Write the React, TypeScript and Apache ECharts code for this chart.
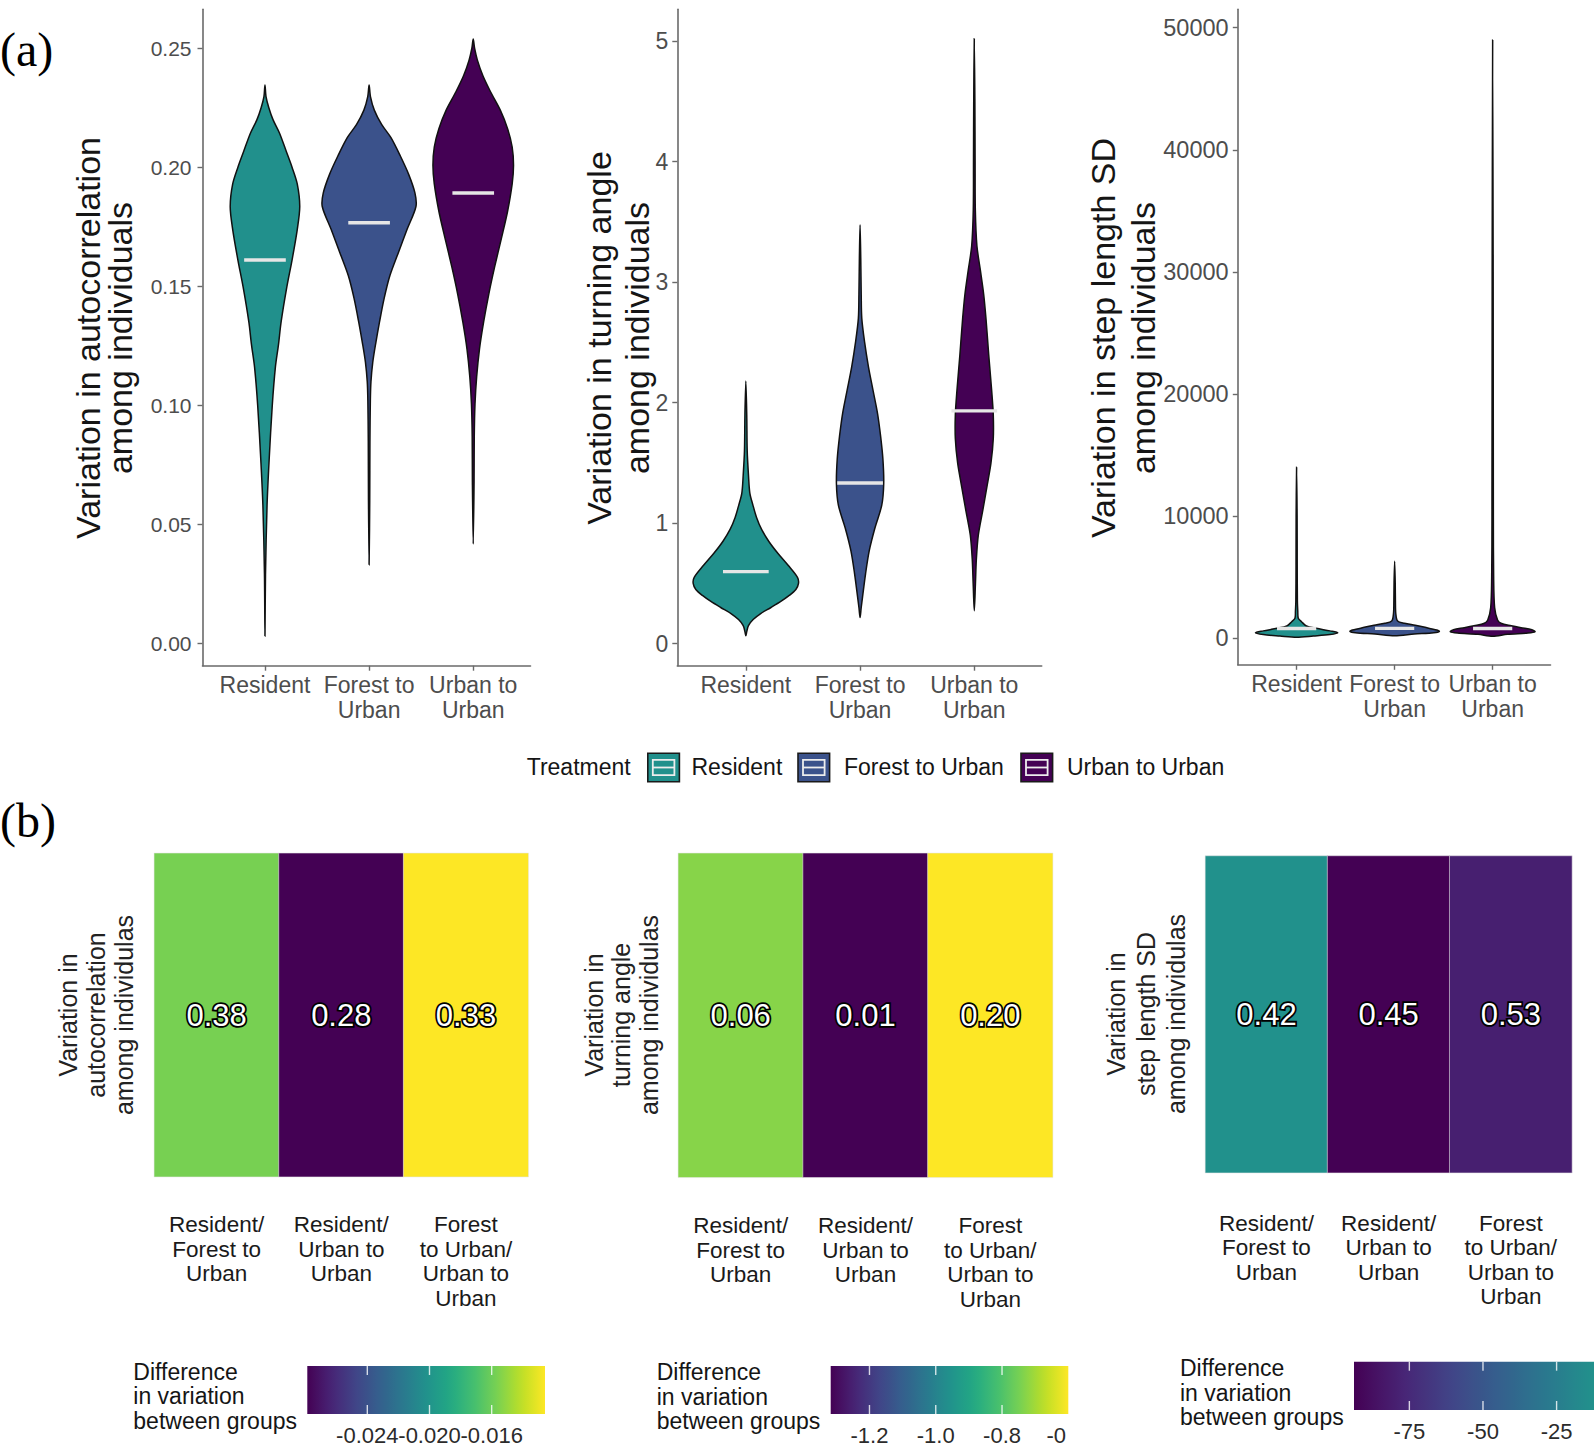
import React, { useEffect, useRef } from "react";
import * as echarts from "echarts";

const FONT = "'Liberation Sans', Arial, Helvetica, sans-serif";

// ---------- categories ----------
const groups = ["Resident", "Forest to Urban", "Urban to Urban"];
const groupAxisLabels = ["Resident", "Forest to\nUrban", "Urban to\nUrban"];
const groupColors = ["#21908C", "#3B528B", "#440154"];

// ---------- (a) violin profiles: y value and half-width (x-axis units) ----------
// autocorrelation
const acTicks = [0, 0.05, 0.1, 0.15, 0.2, 0.25];
const acResY = [0.003, 0.029, 0.058, 0.077, 0.0999, 0.116, 0.1256, 0.135, 0.1497, 0.161, 0.1738, 0.1835, 0.193, 0.2, 0.2066, 0.2143, 0.22, 0.225, 0.2297, 0.2346];
const acResW = [0, 0.005, 0.02, 0.04, 0.07, 0.1, 0.13, 0.155, 0.21, 0.26, 0.31, 0.334, 0.31, 0.26, 0.205, 0.14, 0.077, 0.037, 0.01, 0];
const acForY = [0.033, 0.06, 0.085, 0.102, 0.11, 0.118, 0.1256, 0.135, 0.145, 0.1545, 0.164, 0.1738, 0.1835, 0.1892, 0.197, 0.2047, 0.2124, 0.218, 0.224, 0.2297, 0.2346];
const acForW = [0, 0.006, 0.008, 0.012, 0.018, 0.035, 0.062, 0.1, 0.145, 0.2, 0.28, 0.364, 0.45, 0.44, 0.38, 0.3, 0.21, 0.12, 0.05, 0.013, 0];
const acUrbY = [0.0417, 0.0677, 0.087, 0.1005, 0.112, 0.1236, 0.135, 0.1468, 0.158, 0.17, 0.1815, 0.193, 0.2008, 0.2085, 0.2162, 0.224, 0.2317, 0.2384, 0.245, 0.25, 0.2539];
const acUrbW = [0, 0.008, 0.01, 0.017, 0.033, 0.06, 0.1, 0.15, 0.205, 0.27, 0.33, 0.374, 0.387, 0.374, 0.33, 0.26, 0.166, 0.093, 0.04, 0.013, 0];
const acMedians = [0.161, 0.1767, 0.1892];

// turning angle
const taTicks = [0, 1, 2, 3, 4, 5];
const taResY = [0.065, 0.1, 0.15, 0.2, 0.25, 0.3, 0.35, 0.4, 0.45, 0.5, 0.55, 0.65, 0.75, 0.85, 0.95, 1.05, 1.15, 1.25, 1.4, 1.6, 1.9, 2.18];
const taResW = [0, 0.008, 0.023, 0.064, 0.13, 0.22, 0.306, 0.38, 0.438, 0.461, 0.452, 0.37, 0.28, 0.2, 0.137, 0.093, 0.062, 0.035, 0.023, 0.012, 0.008, 0];
const taForY = [0.217, 0.3, 0.39, 0.58, 0.77, 0.96, 1.15, 1.33, 1.53, 1.72, 1.91, 2.1, 2.3, 2.5, 2.7, 2.9, 3.2, 3.476];
const taForW = [0, 0.01, 0.022, 0.048, 0.08, 0.13, 0.19, 0.207, 0.2, 0.18, 0.153, 0.114, 0.073, 0.04, 0.015, 0.01, 0.006, 0];
const taUrbY = [0.274, 0.5, 0.7, 0.9, 1.1, 1.3, 1.5, 1.7, 1.9, 2.1, 2.4, 2.7, 2.9, 3.1, 3.3, 3.6, 4.0, 4.5, 5.02];
const taUrbW = [0, 0.01, 0.018, 0.035, 0.073, 0.11, 0.146, 0.166, 0.166, 0.152, 0.126, 0.102, 0.082, 0.053, 0.023, 0.009, 0.007, 0.005, 0];
const taMedians = [0.598, 1.334, 1.932];

// step length SD
const slTicks = [0, 10000, 20000, 30000, 40000, 50000];
const slResY = [80, 180, 300, 450, 600, 810, 1000, 1350, 1630, 2200, 3000, 6000, 10000, 14000];
const slResW = [0, 0.17, 0.34, 0.42, 0.34, 0.2, 0.1, 0.05, 0.017, 0.012, 0.008, 0.006, 0.005, 0];
const slForY = [200, 340, 450, 560, 670, 890, 1056, 1220, 1409, 2000, 3000, 4500, 6300];
const slForW = [0, 0.2, 0.4, 0.456, 0.43, 0.31, 0.21, 0.1, 0.03, 0.012, 0.008, 0.006, 0];
const slUrbY = [150, 320, 425, 530, 700, 860, 1020, 1220, 1490, 2500, 5000, 10000, 30000, 49000];
const slUrbW = [0, 0.15, 0.36, 0.432, 0.4, 0.29, 0.19, 0.085, 0.05, 0.02, 0.01, 0.007, 0.005, 0];
const slMedians = [790, 805, 800];

// ---------- (b) heatmaps ----------
const pairLabels = ["Resident/\nForest to\nUrban", "Resident/\nUrban to\nUrban", "Forest\nto Urban/\nUrban to\nUrban"];
const acDiff = [-0.0157, -0.02786, -0.01257];
const acPText = ["0.38", "0.28", "0.33"];
const taDiff = [-0.73, -1.317, -0.6];
const taPText = ["0.06", "0.01", "0.20"];
const slDiff = [-12.3, -93.8, -80];
const slPText = ["0.42", "0.45", "0.53"];

// colour scales (scale limits) and the visible colour-bar ranges
const acScale = [-0.02786, -0.01257];
const acBar = [-0.02786, -0.01257];
const acBarTicks = [-0.024, -0.02, -0.016];
const acBarLabels = ["-0.024", "-0.020", "-0.016"];
const taScale = [-1.317, -0.6];
const taBar = [-1.317, -0.6];
const taBarTicks = [-1.2, -1.0, -0.8, -0.6];
const taBarLabels = ["-1.2", "-1.0", "-0.8", "-0"];
const slScale = [-93.8, 69.2];
const slBar = [-93.8, -12.3];
const slBarTicks = [-75, -50, -25];
const slBarLabels = ["-75", "-50", "-25"];

const viridis = ["#440154", "#482475", "#414487", "#355F8D", "#2A788E", "#21918C", "#22A884", "#44BF70", "#7AD151", "#BDDF26", "#FDE725"];

function hexRgb(h: string) {
  return [parseInt(h.slice(1, 3), 16), parseInt(h.slice(3, 5), 16), parseInt(h.slice(5, 7), 16)];
}
function viridisAt(t: number) {
  const tt = Math.max(0, Math.min(1, t));
  const n = viridis.length - 1;
  const p = tt * n;
  const i = Math.min(Math.floor(p), n - 1);
  const f = p - i;
  const a = hexRgb(viridis[i]);
  const b = hexRgb(viridis[i + 1]);
  const c = a.map((v, k) => Math.round(v + (b[k] - v) * f));
  return `rgb(${c[0]},${c[1]},${c[2]})`;
}

const AXIS_COLOR = "#6a6a6a";
const TICK_TEXT = "#4d4d4d";
const MEDIAN_HALF = 0.2;

function buildOption() {
  const violinPanels = [
    { grid: { left: 202.5, top: 9.2, width: 328, height: 656.5 }, xMax: 3.55, yMin: -0.00945, yMax: 0.2664, ticks: acTicks, fmt: (v: number) => v.toFixed(2), tickFont: 21, yMargin: 11, ys: [acResY, acForY, acUrbY], ws: [acResW, acForW, acUrbW], med: acMedians },
    { grid: { left: 677.3, top: 9.2, width: 364.4, height: 656.5 }, xMax: 3.59, yMin: -0.183, yMax: 5.266, ticks: taTicks, fmt: (v: number) => String(v), tickFont: 23, yMargin: 9, ys: [taResY, taForY, taUrbY], ws: [taResW, taForW, taUrbW], med: taMedians },
    { grid: { left: 1237.8, top: 9.2, width: 312.7, height: 655.6 }, xMax: 3.59, yMin: -2178, yMax: 51515, ticks: slTicks, fmt: (v: number) => String(v), tickFont: 23.5, yMargin: 9.2, ys: [slResY, slForY, slUrbY], ws: [slResW, slForW, slUrbW], med: slMedians },
  ];
  const heatPanels = [
    { grid: { left: 154.3, top: 853.3, width: 374, height: 323.4 }, diff: acDiff, txt: acPText, scale: acScale, margin: 36 },
    { grid: { left: 678.3, top: 853.3, width: 374.4, height: 324 }, diff: taDiff, txt: taPText, scale: taScale, margin: 36 },
    { grid: { left: 1205.4, top: 856, width: 366.5, height: 316.7 }, diff: slDiff, txt: slPText, scale: slScale, margin: 38.4 },
  ];
  const barPanels = [
    { grid: { left: 307.3, top: 1366, width: 237.7, height: 48 }, bar: acBar, scale: acScale, ticks: acBarTicks, labels: acBarLabels },
    { grid: { left: 830.7, top: 1366, width: 237.6, height: 48 }, bar: taBar, scale: taScale, ticks: taBarTicks, labels: taBarLabels },
    { grid: { left: 1354, top: 1361.7, width: 240, height: 48.3 }, bar: slBar, scale: slScale, ticks: slBarTicks, labels: slBarLabels },
  ];

  const grid: any[] = [];
  const xAxis: any[] = [];
  const yAxis: any[] = [];
  const series: any[] = [];
  const visualMap: any[] = [];

  violinPanels.forEach((p, gi) => {
    grid.push({ ...p.grid, containLabel: false });
    xAxis.push({
      gridIndex: gi, type: "value", min: 0.4, max: p.xMax,
      axisLine: { show: true, onZero: false, lineStyle: { color: AXIS_COLOR, width: 1.6 } },
      axisTick: { show: true, customValues: [1, 2, 3], length: 5, lineStyle: { color: AXIS_COLOR, width: 1.4 } },
      axisLabel: { customValues: [1, 2, 3], formatter: (v: number) => groupAxisLabels[Math.round(v) - 1], fontSize: 23, lineHeight: 25, color: TICK_TEXT, margin: 7, fontFamily: FONT },
      splitLine: { show: false },
    });
    yAxis.push({
      gridIndex: gi, type: "value", min: p.yMin, max: p.yMax,
      axisLine: { show: true, onZero: false, lineStyle: { color: AXIS_COLOR, width: 1.6 } },
      axisTick: { show: true, customValues: p.ticks, length: 5, lineStyle: { color: AXIS_COLOR, width: 1.4 } },
      axisLabel: { customValues: p.ticks, formatter: p.fmt, fontSize: p.tickFont, color: TICK_TEXT, margin: p.yMargin, fontFamily: FONT },
      splitLine: { show: false },
    });
    series.push({
      type: "custom", xAxisIndex: gi, yAxisIndex: gi, silent: true,
      data: groups.map((g, i) => [i + 1, p.med[i]]),
      encode: { x: 0, y: 1 },
      renderItem: (params: any, api: any) => {
        const i = params.dataIndex;
        const cx = api.value(0);
        const Y = p.ys[i];
        const W = p.ws[i];
        const pts: number[][] = [];
        for (let k = 0; k < Y.length; k++) pts.push(api.coord([cx + W[k], Y[k]]));
        for (let k = Y.length - 1; k >= 0; k--) if (W[k] > 0) pts.push(api.coord([cx - W[k], Y[k]]));
        const m = api.value(1);
        const a = api.coord([cx - MEDIAN_HALF, m]);
        const b = api.coord([cx + MEDIAN_HALF, m]);
        return {
          type: "group",
          children: [
            { type: "polygon", shape: { points: pts, smooth: 0.3 }, style: { fill: groupColors[i], stroke: "#111111", lineWidth: 1.5 } },
            { type: "line", shape: { x1: a[0], y1: a[1], x2: b[0], y2: b[1] }, style: { stroke: "#E6E6E6", lineWidth: 3.4 } },
          ],
        };
      },
    });
  });

  heatPanels.forEach((p, k) => {
    const gi = 3 + k;
    grid.push({ ...p.grid, containLabel: false });
    xAxis.push({
      gridIndex: gi, type: "category", data: pairLabels,
      axisLine: { show: false }, axisTick: { show: false }, splitLine: { show: false },
      axisLabel: { interval: 0, fontSize: 22.5, lineHeight: 24.5, color: "#1a1a1a", margin: p.margin, fontFamily: FONT },
    });
    yAxis.push({ gridIndex: gi, type: "category", data: [""], show: false });
    const si = series.length;
    series.push({
      type: "heatmap", xAxisIndex: gi, yAxisIndex: gi,
      data: p.diff.map((v, i) => [i, 0, v]),
      itemStyle: { borderColor: "rgba(230,230,230,0.55)", borderWidth: 1 },
      label: {
        show: true, formatter: (q: any) => p.txt[q.dataIndex],
        color: "#ffffff", fontSize: 31, fontFamily: FONT,
        textBorderColor: "#000000", textBorderWidth: 3.6,
      },
      emphasis: { disabled: true },
    });
    visualMap.push({
      type: "continuous", show: false, seriesIndex: si, dimension: 2,
      min: p.scale[0], max: p.scale[1], inRange: { color: viridis },
    });
  });

  barPanels.forEach((p, k) => {
    const gi = 6 + k;
    grid.push({ ...p.grid, containLabel: false });
    xAxis.push({
      gridIndex: gi, type: "value", min: p.bar[0], max: p.bar[1],
      axisLine: { show: false }, axisTick: { show: false }, splitLine: { show: false },
      axisLabel: {
        customValues: p.ticks,
        formatter: (v: number) => {
          const idx = p.ticks.findIndex((t) => Math.abs(t - v) < 1e-9);
          const s = idx >= 0 ? p.labels[idx] : "";
          return k === 1 && idx === p.ticks.length - 1 ? "{cut|" + s + "}" : s;
        },
        rich: { cut: { fontSize: 22, color: "#2b2b2b", fontFamily: FONT, padding: [0, 24, 0, 0] } },
        fontSize: 22, color: "#2b2b2b", margin: 10, fontFamily: FONT,
      },
    });
    yAxis.push({ gridIndex: gi, type: "value", min: 0, max: 1, show: false });
    series.push({
      type: "custom", xAxisIndex: gi, yAxisIndex: gi, silent: true,
      data: [[p.bar[0], 0]],
      encode: { x: 0, y: 1 },
      renderItem: (params: any, api: any) => {
        const lo = api.coord([p.bar[0], 0]);
        const hi = api.coord([p.bar[1], 1]);
        const x0 = lo[0];
        const y0 = hi[1];
        const w = hi[0] - lo[0];
        const h = lo[1] - hi[1];
        const stops: any[] = [];
        for (let i = 0; i <= 24; i++) {
          const v = p.bar[0] + ((p.bar[1] - p.bar[0]) * i) / 24;
          stops.push({ offset: i / 24, color: viridisAt((v - p.scale[0]) / (p.scale[1] - p.scale[0])) });
        }
        const children: any[] = [
          { type: "rect", shape: { x: x0, y: y0, width: w, height: h }, style: { fill: { type: "linear", x: 0, y: 0, x2: 1, y2: 0, colorStops: stops } } },
        ];
        p.ticks.forEach((t) => {
          const x = api.coord([t, 0])[0];
          if (x > x0 + 2 && x < x0 + w - 2) {
            children.push({ type: "line", shape: { x1: x, y1: y0, x2: x, y2: y0 + 9 }, style: { stroke: "rgba(255,255,255,0.8)", lineWidth: 1.4 } });
            children.push({ type: "line", shape: { x1: x, y1: y0 + h - 9, x2: x, y2: y0 + h }, style: { stroke: "rgba(255,255,255,0.8)", lineWidth: 1.4 } });
          }
        });
        return { type: "group", children };
      },
    });
  });

  const rotTitle = (text: string, x: number, y: number, size: number, lh: number, color: string) => ({
    type: "text", x, y, rotation: Math.PI / 2, silent: true,
    style: { text, fontSize: size, fontFamily: FONT, lineHeight: lh, fill: color, align: "center", verticalAlign: "middle" },
  });
  const plainText = (text: string, x: number, y: number, size: number, lh: number, color: string, family = FONT) => ({
    type: "text", x, y, silent: true,
    style: { text, fontSize: size, fontFamily: family, lineHeight: lh, fill: color, align: "left", verticalAlign: "middle" },
  });

  const graphic: any[] = [
    plainText("(a)", 0, 49, 48, 50, "#000", "'Liberation Serif', 'Times New Roman', serif"),
    plainText("(b)", 0, 820, 48, 50, "#000", "'Liberation Serif', 'Times New Roman', serif"),
    rotTitle("Variation in autocorrelation\namong individuals", 104, 338, 34, 32, "#151515"),
    rotTitle("Variation in turning angle\namong individuals", 617.5, 338, 34, 38, "#151515"),
    rotTitle("Variation in step length SD\namong individuals", 1123, 338, 34, 40, "#151515"),
    rotTitle("Variation in\nautocorrelation\namong individulas", 96, 1015, 25, 28, "#222"),
    rotTitle("Variation in\nturning angle\namong individulas", 621, 1015, 25, 27.5, "#222"),
    rotTitle("Variation in\nstep length SD\namong individulas", 1146, 1014, 25, 30, "#222"),
    plainText("Difference\nin variation\nbetween groups", 133.3, 1396, 23, 24.5, "#151515"),
    plainText("Difference\nin variation\nbetween groups", 656.7, 1396.7, 23, 24.5, "#151515"),
    plainText("Difference\nin variation\nbetween groups", 1180, 1392.8, 23, 24.5, "#151515"),
    plainText("Treatment", 526.7, 766.7, 23, 25, "#151515"),
  ];
  const keyX = [647.8, 798, 1021];
  const keyTextX = [691.5, 844, 1067];
  groups.forEach((g, i) => {
    const x = keyX[i];
    const y = 753.3;
    const w = 31.6;
    const h = 28.4;
    graphic.push({ type: "rect", silent: true, shape: { x, y, width: w, height: h }, style: { fill: groupColors[i], stroke: "#1a1a1a", lineWidth: 1.6 } });
    graphic.push({ type: "rect", silent: true, shape: { x: x + 5, y: y + 6.5, width: w - 10, height: h - 13 }, style: { fill: "none", stroke: "#EDEDED", lineWidth: 1.8 } });
    graphic.push({ type: "line", silent: true, shape: { x1: x + 5, y1: y + h / 2, x2: x + w - 5, y2: y + h / 2 }, style: { stroke: "#EDEDED", lineWidth: 1.8 } });
    graphic.push(plainText(g, keyTextX[i], 766.7, 23, 25, "#151515"));
  });

  return { animation: false, backgroundColor: "#ffffff", grid, xAxis, yAxis, series, visualMap, graphic };
}

export default function App() {
  const ref = useRef<HTMLDivElement>(null);
  useEffect(() => {
    if (!ref.current) return;
    const chart = echarts.init(ref.current, null, { renderer: "svg" });
    chart.setOption(buildOption() as any);
    return () => chart.dispose();
  }, []);
  return <div ref={ref} style={{ position: "absolute", left: 0, top: 0, width: 1594, height: 1447, background: "#fff" }} />;
}
